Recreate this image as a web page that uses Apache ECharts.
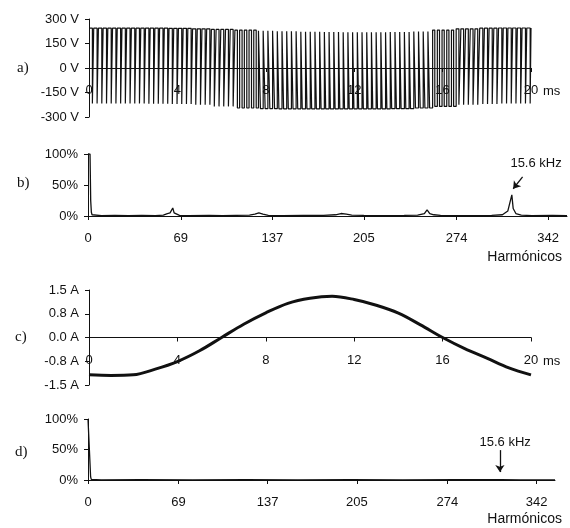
<!DOCTYPE html>
<html>
<head>
<meta charset="utf-8">
<script src="https://cdn.jsdelivr.net/npm/echarts@6/dist/echarts.min.js"></script>
<style>
html,body{margin:0;padding:0;background:#fff;}
#main{width:570px;height:528px;}
</style>
</head>
<body>
<div id="main"></div>
<script>
// a) tension PWM: envolvente y ciclo de trabajo leidos cada 1 ms
var tiempoMs = [0,1,2,3,4,5,6,7,8,9,10,11,12,13,14,15,16,17,18,19,20];
var vAlto = [244,244,244,244,243,240,236,232,228,225,222,220,219,219,220,224,232,240,244,245,245];
var vBajo = [-218,-218,-218,-219,-220,-225,-235,-245,-249,-250,-250,-250,-250,-250,-249,-245,-235,-225,-220,-218,-218];
var cicloAlto = [0.72,0.72,0.72,0.72,0.7,0.68,0.62,0.52,0.42,0.34,0.3,0.28,0.28,0.28,0.3,0.36,0.46,0.58,0.66,0.7,0.72];
var periodoPwmMs = 0.213;

// b) espectro de la tension [armonico, %]
var espectroV = [[0,100],[1.5,100],[2,25],[2.5,6],[3,2],[4,1],[10,0.5],[20,1],[30,0.5],[40,1],[50,0.5],
  [56,1.5],[59,4],[61,5],[62,4],[63,13],[64,5],[66,3],[68,1],[75,0.5],[90,1],[100,0.5],[110,1],
  [120,1.5],[124,3],[127,5],[130,3],[134,1],[145,0.5],[160,1],[175,1],[184,2],[188,4],[192,3],[196,1.5],
  [205,1],[220,0.5],[235,1],[245,1.5],[250,4],[252,10],[254,4],[257,2],[262,1],[280,0.5],[300,1],
  [308,2],[312,8],[315,34],[316,12],[318,4],[322,1.5],[330,0.5],[345,1],[356,0.5]];

// c) corriente (A) cada 1 ms
var corriente = [-1.18,-1.2,-1.18,-1.0,-0.76,-0.42,0.0,0.42,0.78,1.08,1.24,1.3,1.2,1.02,0.77,0.4,0.0,-0.35,-0.65,-0.96,-1.18];

// d) espectro de la corriente [armonico, %]
var espectroI = [[0,100],[1.5,100],[2,5],[2.5,1],[10,0.3],[40,0.6],[80,0.3],[120,0.6],[160,0.3],
  [200,0.6],[240,0.3],[280,0.6],[315,0.5],[330,0.3],[356,0.3]];

var ticksArm = [0,69,137,205,274,342];

// construir la onda cuadrada a partir de los valores leidos
var ondaPwm = [];
for (var t = 0; t < 20; t += periodoPwmMs) {
  var i = Math.round(t);
  var tFin = Math.min(t + periodoPwmMs, 20);
  var tCorte = Math.min(t + cicloAlto[i] * periodoPwmMs, 20);
  ondaPwm.push([t, vAlto[i]], [tCorte, vAlto[i]], [tCorte, vBajo[i]], [tFin, vBajo[i]]);
}
ondaPwm.push([20, vAlto[20]]);

var corrienteData = tiempoMs.map(function (t, k) { return [t, corriente[k]]; });

var fuente = '"Liberation Sans", Arial, sans-serif';
var lbl = {fontFamily: fuente, fontSize: 13, color: '#111'};
var negro = '#111';

function ejeY(idx, min, max, step, fmt) {
  return {
    type: 'value', gridIndex: idx, min: min, max: max, interval: step,
    splitLine: {show: false},
    axisLine: {show: true, lineStyle: {color: negro, width: 1}},
    axisTick: {show: true, length: 4, lineStyle: {color: negro}},
    axisLabel: Object.assign({margin: 10, formatter: fmt}, lbl)
  };
}
// eje de tiempo desplazado hasta el cero del eje vertical
function ejeTiempo(idx, desplaz) {
  return {
    type: 'value', gridIndex: idx, min: 0, max: 20, interval: 4,
    offset: desplaz,
    splitLine: {show: false},
    axisLine: {onZero: false, lineStyle: {color: negro, width: 1}},
    axisTick: {length: 4, lineStyle: {color: negro}},
    axisLabel: Object.assign({margin: 16}, lbl)
  };
}
function ejeArm(idx) {
  return {
    type: 'value', gridIndex: idx, min: 0, max: 356,
    splitLine: {show: false},
    axisLine: {lineStyle: {color: negro, width: 1}},
    axisTick: {length: 4, customValues: ticksArm, lineStyle: {color: negro}},
    axisLabel: Object.assign({margin: 16, customValues: ticksArm}, lbl)
  };
}

var myChart = echarts.init(document.getElementById('main'));
var options = {
  animation: false,
  backgroundColor: '#fff',
  grid: [
    {left: 89, top: 19, width: 442, height: 98},
    {left: 88, top: 154, width: 479, height: 62},
    {left: 89, top: 290, width: 442, height: 95},
    {left: 88, top: 419, width: 467, height: 61}
  ],
  xAxis: [ejeTiempo(0, -49), ejeArm(1), ejeTiempo(2, -47.5), ejeArm(3)],
  yAxis: [
    ejeY(0, -300, 300, 150, '{value} V'),
    ejeY(1, 0, 100, 50, '{value}%'),
    ejeY(2, -1.5, 1.5, 0.75, function (v) { return v.toFixed(1) + ' A'; }),
    ejeY(3, 0, 100, 50, '{value}%')
  ],
  series: [
    {
      type: 'line', xAxisIndex: 0, yAxisIndex: 0, data: ondaPwm,
      showSymbol: false, sampling: 'none', silent: true,
      lineStyle: {color: negro, width: 1.2}
    },
    {
      type: 'line', xAxisIndex: 1, yAxisIndex: 1, data: espectroV,
      showSymbol: false, silent: true,
      lineStyle: {color: negro, width: 1.3},
      markLine: {
        silent: true, symbol: ['none', 'arrow'], symbolSize: 7,
        lineStyle: {color: negro, width: 1.3, type: 'solid'},
        label: {show: false},
        data: [[{coord: [323, 63]}, {coord: [316, 44]}]]
      },
      markPoint: {
        silent: true, symbol: 'circle', symbolSize: 0,
        label: Object.assign({show: true, position: 'inside', formatter: '15.6 kHz'}, lbl),
        data: [{coord: [333, 85]}]
      }
    },
    {
      type: 'line', xAxisIndex: 2, yAxisIndex: 2, data: corrienteData,
      showSymbol: false, smooth: 0.35, silent: true,
      lineStyle: {color: negro, width: 3}
    },
    {
      type: 'line', xAxisIndex: 3, yAxisIndex: 3, data: espectroI,
      showSymbol: false, silent: true,
      lineStyle: {color: negro, width: 1.3},
      markLine: {
        silent: true, symbol: ['none', 'arrow'], symbolSize: 7,
        lineStyle: {color: negro, width: 1.3, type: 'solid'},
        label: {show: false},
        data: [[{coord: [314, 49]}, {coord: [314, 13]}]]
      },
      markPoint: {
        silent: true, symbol: 'circle', symbolSize: 0,
        label: Object.assign({show: true, position: 'inside', formatter: '15.6 kHz'}, lbl),
        data: [{coord: [318, 62]}]
      }
    }
  ],
  graphic: [
    {type: 'text', x: 17, y: 68, style: {text: 'a)', font: '15px "Liberation Serif"', fill: negro, verticalAlign: 'middle'}},
    {type: 'text', x: 17, y: 183, style: {text: 'b)', font: '15px "Liberation Serif"', fill: negro, verticalAlign: 'middle'}},
    {type: 'text', x: 15, y: 337, style: {text: 'c)', font: '15px "Liberation Serif"', fill: negro, verticalAlign: 'middle'}},
    {type: 'text', x: 15, y: 452, style: {text: 'd)', font: '15px "Liberation Serif"', fill: negro, verticalAlign: 'middle'}},
    {type: 'text', x: 543, y: 91, style: {text: 'ms', font: '13px ' + fuente, fill: negro, verticalAlign: 'middle'}},
    {type: 'text', x: 543, y: 361, style: {text: 'ms', font: '13px ' + fuente, fill: negro, verticalAlign: 'middle'}},
    {type: 'text', x: 562, y: 257, style: {text: 'Harmónicos', font: '14px ' + fuente, fill: negro, align: 'right', verticalAlign: 'middle'}},
    {type: 'text', x: 562, y: 519, style: {text: 'Harmónicos', font: '14px ' + fuente, fill: negro, align: 'right', verticalAlign: 'middle'}}
  ]
};
myChart.setOption(options);
</script>
</body>
</html>
